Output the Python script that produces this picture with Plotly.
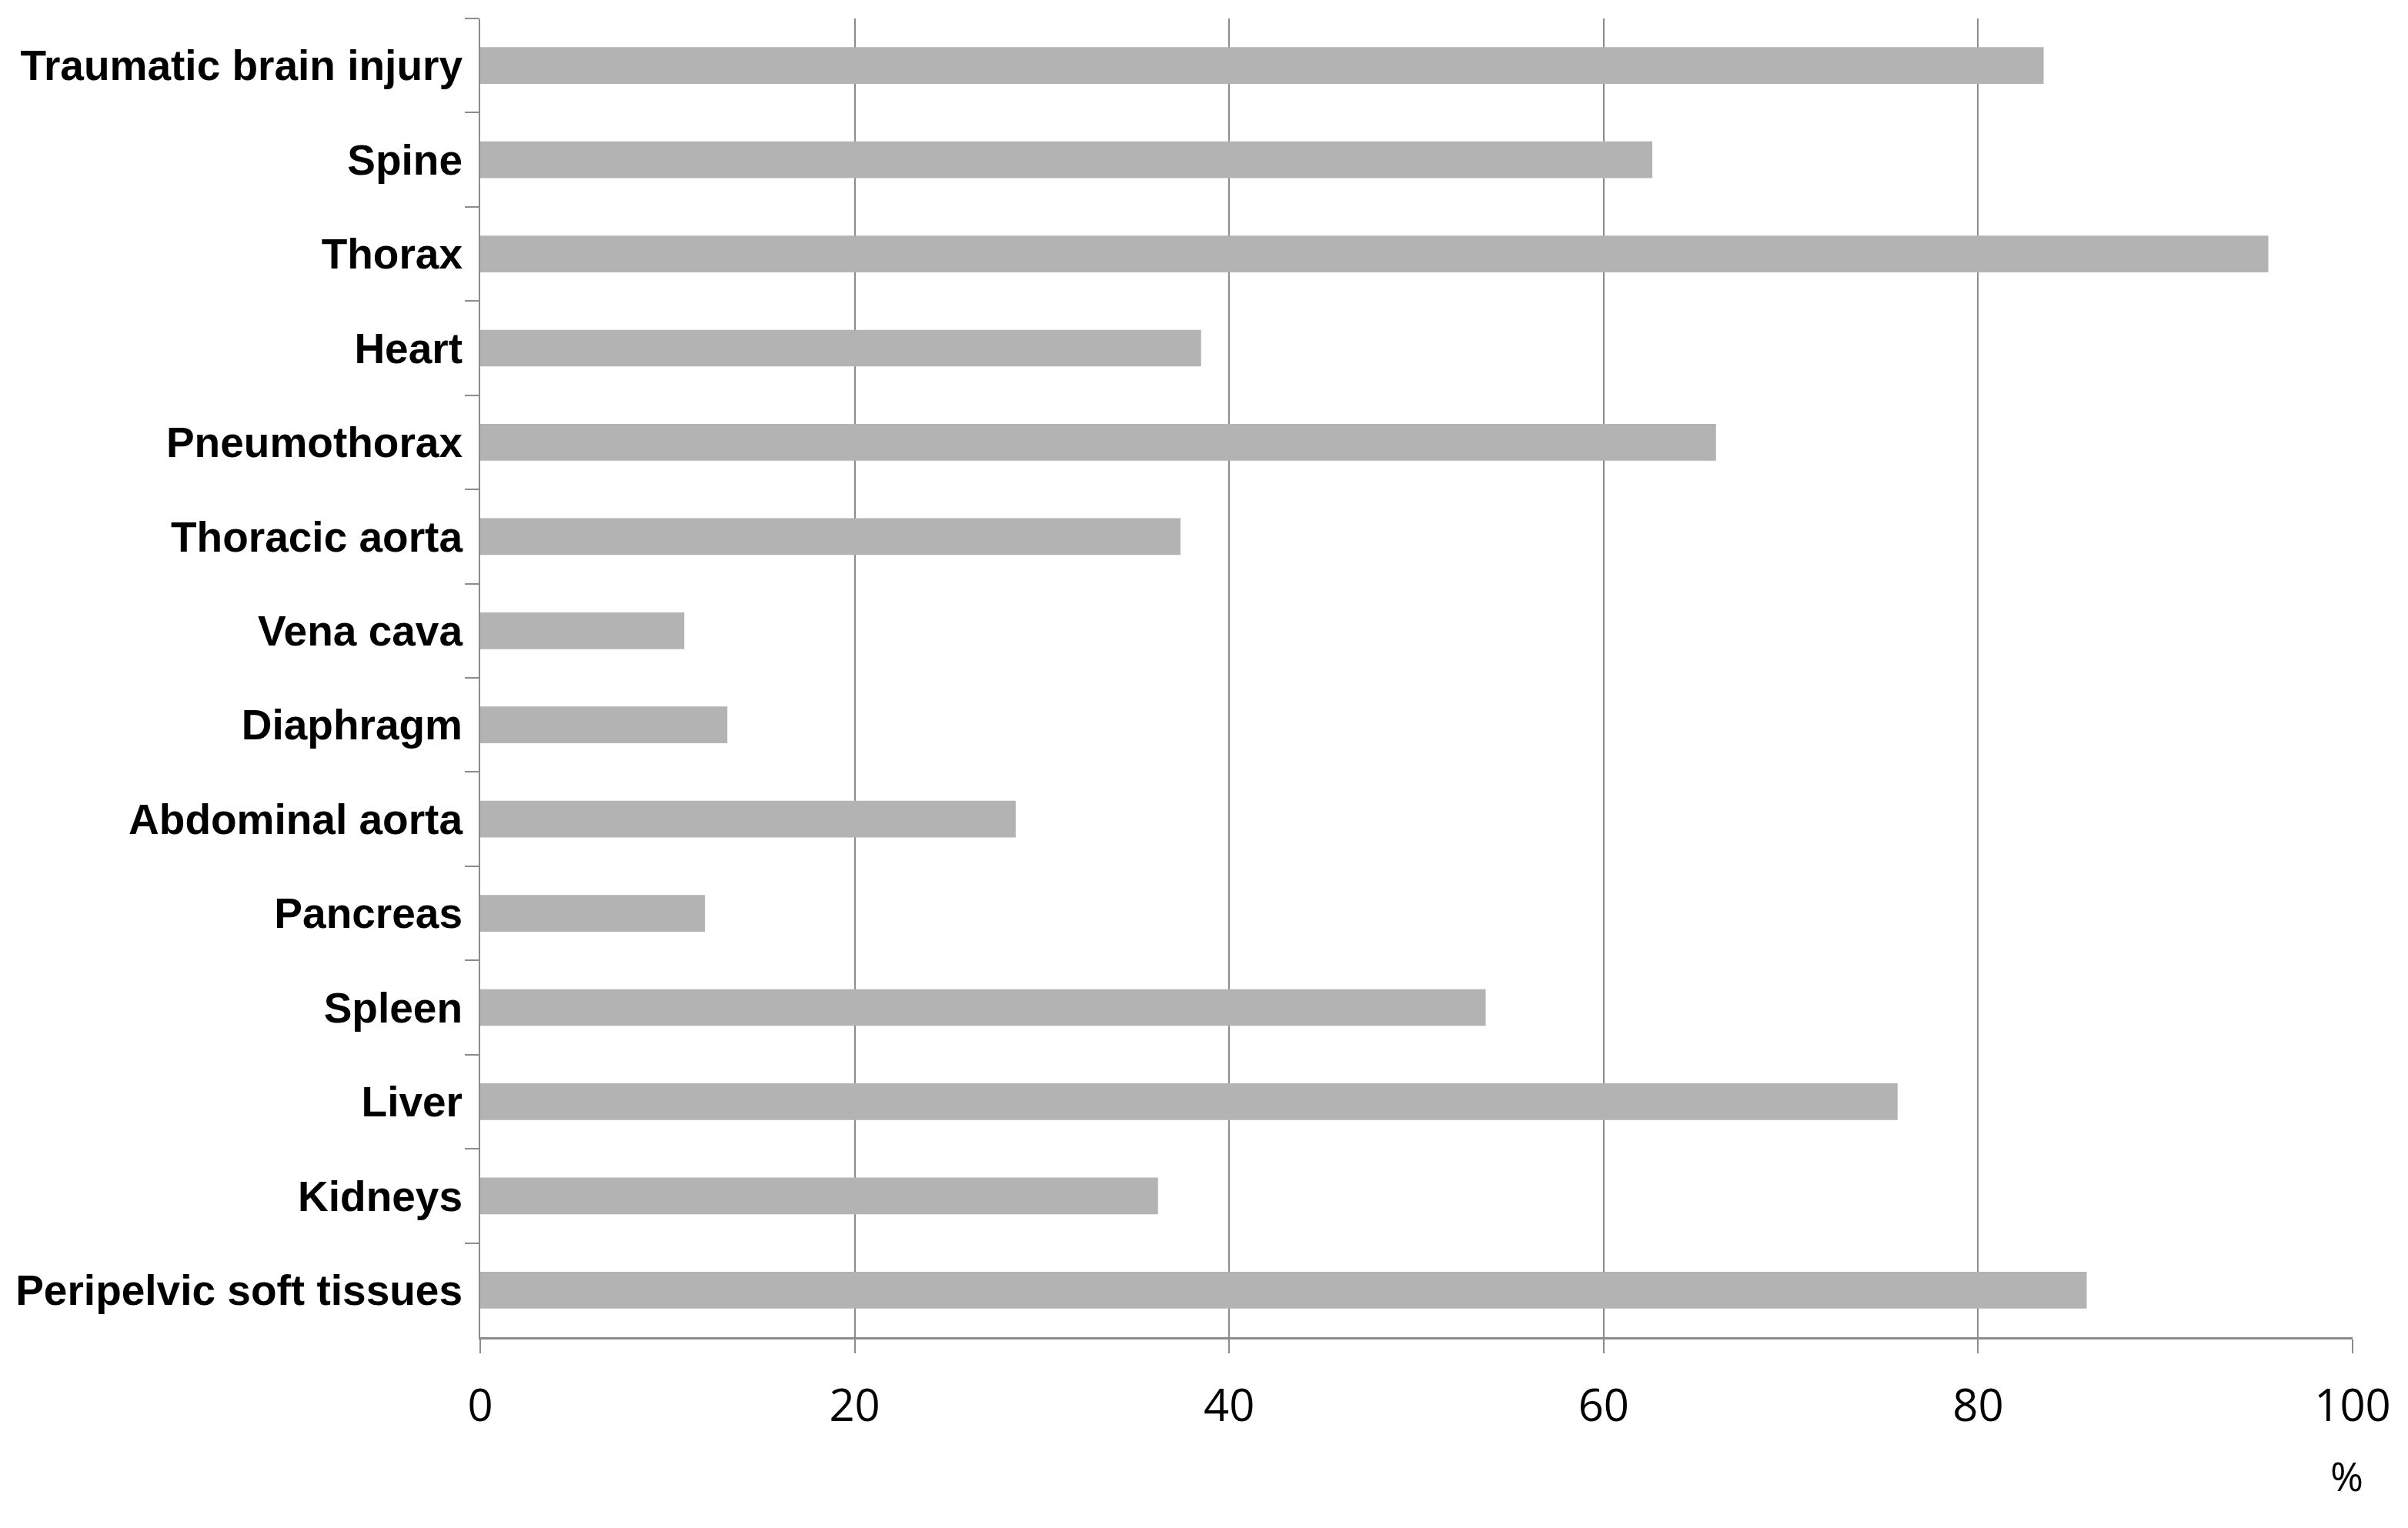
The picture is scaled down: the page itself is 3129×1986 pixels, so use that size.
import plotly.graph_objects as go

# regions, top to bottom as in the figure
regions = [
    "Traumatic brain injury",
    "Spine",
    "Thorax",
    "Heart",
    "Pneumothorax",
    "Thoracic aorta",
    "Vena cava",
    "Diaphragm",
    "Abdominal aorta",
    "Pancreas",
    "Spleen",
    "Liver",
    "Kidneys",
    "Peripelvic soft tissues",
]
percent = [83.5, 62.6, 95.5, 38.5, 66.0, 37.4, 10.9, 13.2, 28.6, 12.0, 53.7, 75.7, 36.2, 85.8]
x_ticks = [0, 20, 40, 60, 80, 100]

axis_grey = "#8c8c8c"

fig = go.Figure()
fig.add_trace(
    go.Bar(
        x=percent,
        y=regions,
        orientation="h",
        marker=dict(color="#b3b3b3", line=dict(width=0)),
        width=0.39,
    )
)

fig.update_layout(
    width=3129,
    height=1986,
    plot_bgcolor="white",
    paper_bgcolor="white",
    showlegend=False,
    margin=dict(l=614, r=80, t=16, b=256),
    font=dict(family="Arial", color="black"),
)

fig.update_xaxes(
    range=[0, 100],
    tickvals=x_ticks,
    showgrid=True,
    gridcolor=axis_grey,
    gridwidth=2,
    zeroline=False,
    showline=True,
    linecolor=axis_grey,
    linewidth=3,
    ticks="outside",
    ticklen=18,
    tickwidth=2,
    tickcolor=axis_grey,
    tickfont=dict(family="Open Sans", size=58, color="black"),
    ticklabelstandoff=18,
)

fig.update_yaxes(
    autorange="reversed",
    showgrid=False,
    showline=True,
    linecolor=axis_grey,
    linewidth=2,
    ticks="outside",
    tickson="boundaries",
    ticklen=18,
    tickwidth=2,
    tickcolor=axis_grey,
    tickfont=dict(family="Arial", size=55, color="black", weight="bold"),
    ticklabelstandoff=10,
)

fig.add_annotation(
    text="%",
    xref="x domain",
    yref="paper",
    x=0.997,
    y=0,
    xanchor="center",
    yanchor="top",
    yshift=-142,
    showarrow=False,
    font=dict(family="Open Sans", size=52, color="black"),
)

fig.write_html("out.html")
